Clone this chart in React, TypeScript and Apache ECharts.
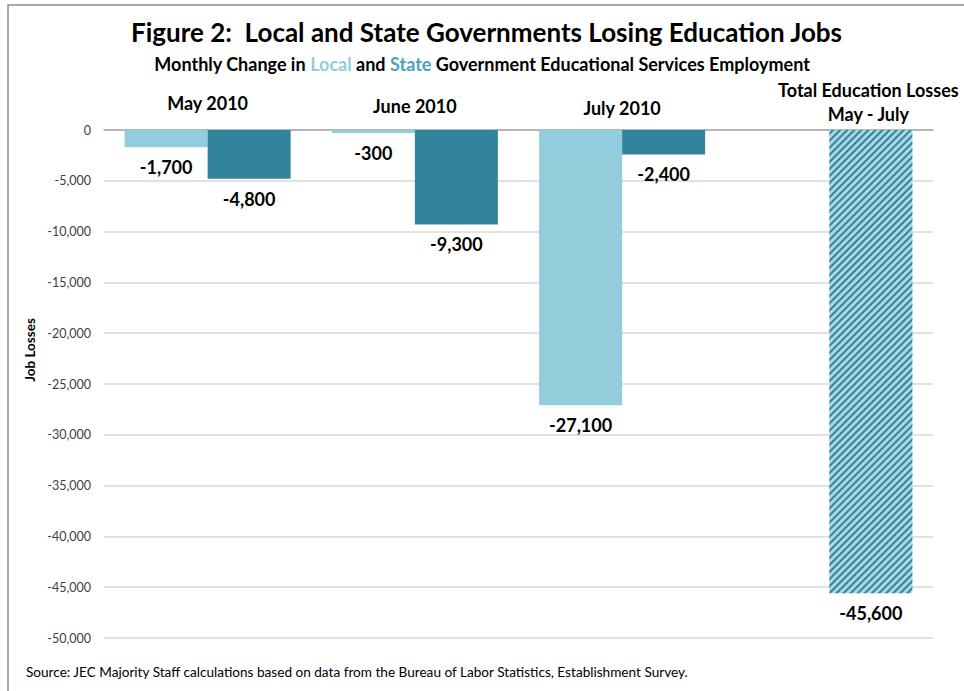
import React, { useEffect, useRef } from "react";
import * as echarts from "echarts";

const categories = ["May 2010", "June 2010", "July 2010", "Total Education Losses\nMay - July"];
const localValues: (number | null)[] = [-1700, -300, -27100, null];
const stateValues: number[] = [-4800, -9300, -2400];
const totalValue = -45600;
const yMin = -50000;
const yMax = 0;
const yInterval = 5000;

const titleText = "Figure 2:  Local and State Governments Losing Education Jobs";
const sourceText = "Source: JEC Majority Staff calculations based on data from the Bureau of Labor Statistics, Establishment Survey.";

const FONT = "Lato, 'Open Sans', sans-serif";
const LOCAL_COLOR = "#92cddc";
const STATE_COLOR = "#31849b";

const fmt = (v: number) => v.toLocaleString("en-US");

export default function App() {
  const ref = useRef<HTMLDivElement>(null);
  useEffect(() => {
    if (!ref.current) return;
    const chart = echarts.init(ref.current, null, { renderer: "svg" });
    const stateData: any[] = stateValues.map((v) => v);
    stateData.push({
      value: totalValue,
      itemStyle: {
        color: "#a8d6e2",
        decal: {
          symbol: "rect",
          symbolSize: 1,
          color: "#31849b",
          dashArrayX: [1, 0],
          dashArrayY: [2, 3],
          rotation: -Math.PI / 4,
        },
      },
    });
    const catFont = { fontFamily: FONT, fontSize: 18, fontWeight: "bold", color: "#000" };
    chart.setOption({
      animation: false,
      backgroundColor: "#ffffff",
      textStyle: { fontFamily: FONT },
      title: [
        {
          text: titleText,
          left: 126,
          top: 14,
          textStyle: { fontFamily: FONT, fontSize: 26, fontWeight: "bold", color: "#000" },
        },
        {
          text: "Monthly Change in {l|Local} and {s|State} Government Educational Services Employment",
          left: "center",
          top: 50,
          textStyle: {
            fontFamily: FONT,
            fontSize: 18,
            fontWeight: "bold",
            color: "#000",
            rich: {
              l: { fontFamily: FONT, fontSize: 18, fontWeight: "bold", color: LOCAL_COLOR },
              s: { fontFamily: FONT, fontSize: 18, fontWeight: "bold", color: "#4aa3bb" },
            },
          },
        },
      ],
      grid: { left: 104, right: 31, top: 130, bottom: 53, containLabel: false },
      xAxis: {
        type: "category",
        position: "top",
        data: categories,
        axisLine: { show: true, lineStyle: { color: "#a6a6a6", width: 1.5 } },
        axisTick: { show: false },
        splitLine: { show: false },
        axisLabel: {
          interval: 0,
          margin: 4,
          ...catFont,
          formatter: (v: string, i: number) => {
            const key = ["a", "b", "c", "d"][i];
            return v
              .split("\n")
              .map((s) => `{${key}|${s}}`)
              .join("\n");
          },
          rich: {
            a: { ...catFont, lineHeight: 20, padding: [0, 0, 27, 0] },
            b: { ...catFont, lineHeight: 20, padding: [0, 0, 21, 0] },
            c: { ...catFont, lineHeight: 20, padding: [0, 0, 17, 0] },
            d: { ...catFont, lineHeight: 24, padding: [0, 0, 0, 78] },
          },
        },
      },
      yAxis: {
        type: "value",
        min: yMin,
        max: yMax,
        interval: yInterval,
        axisLine: { show: false },
        axisTick: { show: false },
        splitLine: { show: true, lineStyle: { color: "#d9d9d9", width: 1.5 } },
        axisLabel: {
          margin: 13,
          color: "#404040",
          fontFamily: FONT,
          fontSize: 12.5,
          formatter: (v: number) => fmt(v),
        },
      },
      series: [
        {
          name: "Local",
          type: "bar",
          data: localValues,
          barWidth: 83,
          barGap: "0%",
          itemStyle: { color: LOCAL_COLOR },
          label: {
            show: true,
            position: "bottom",
            distance: 11,
            color: "#000",
            fontFamily: FONT,
            fontSize: 18,
            fontWeight: "bold",
            formatter: (p: any) => fmt(p.value),
          },
        },
        {
          name: "State",
          type: "bar",
          data: stateData,
          barWidth: 83,
          barGap: "0%",
          itemStyle: { color: STATE_COLOR },
          label: {
            show: true,
            position: "bottom",
            distance: 11,
            color: "#000",
            fontFamily: FONT,
            fontSize: 18,
            fontWeight: "bold",
            formatter: (p: any) => fmt(p.value),
          },
        },
      ],
      graphic: [
        {
          type: "rect",
          shape: { x: 8, y: 5, width: 1000, height: 700 },
          style: { fill: "none", stroke: "#8c8c8c", lineWidth: 1.5 },
          silent: true,
        },
        {
          type: "text",
          x: 30,
          y: 350,
          rotation: Math.PI / 2,
          style: {
            text: "Job Losses",
            fontFamily: FONT,
            fontSize: 13.5,
            fontWeight: "bold",
            fill: "#000",
            align: "center",
            verticalAlign: "middle",
          },
        },
        {
          type: "text",
          x: 26,
          y: 672,
          style: {
            text: sourceText,
            fontFamily: FONT,
            fontSize: 13.6,
            fill: "#000",
            align: "left",
            verticalAlign: "middle",
          },
        },
      ],
    });
    return () => chart.dispose();
  }, []);
  return <div ref={ref} style={{ width: 964, height: 691, position: "absolute", left: 0, top: 0 }} />;
}
